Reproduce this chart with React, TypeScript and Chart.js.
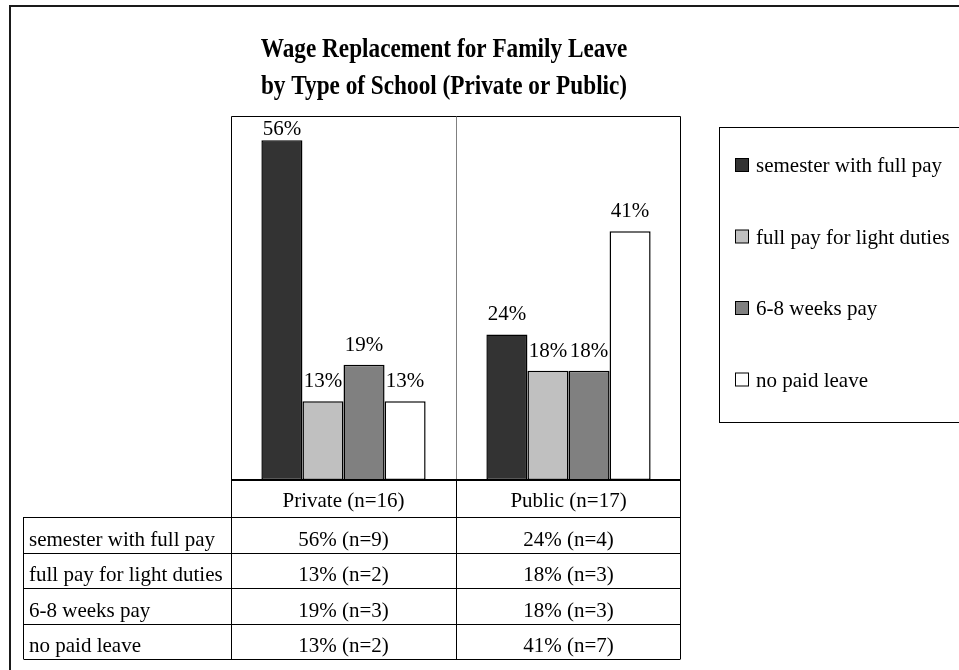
import React, { useEffect, useRef } from "react";
import { Chart, registerables } from "chart.js";

Chart.register(...registerables);

const titleLines = ["Wage Replacement for Family Leave", "by Type of School (Private or Public)"];
const categories = ["Private (n=16)", "Public (n=17)"];
const seriesLabels = ["semester with full pay", "full pay for light duties", "6-8 weeks pay", "no paid leave"];
const privatePct = [56, 13, 19, 13];
const publicPct = [24, 18, 18, 41];
const privateN = [9, 2, 3, 2];
const publicN = [4, 3, 3, 7];
const seriesColors = ["#333333", "#C0C0C0", "#808080", "#FFFFFF"];

const FONT = '"Liberation Serif", "Times New Roman", serif';

function drawText(
  ctx: CanvasRenderingContext2D,
  s: string,
  x: number,
  y: number,
  font: string,
  align: CanvasTextAlign = "left",
  sx = 1
) {
  ctx.save();
  ctx.font = font;
  ctx.textAlign = align;
  ctx.textBaseline = "alphabetic";
  ctx.fillStyle = "#000";
  ctx.translate(x, y);
  ctx.scale(sx, 1);
  ctx.fillText(s, 0, 0);
  ctx.restore();
}

function hLine(ctx: CanvasRenderingContext2D, x1: number, x2: number, y: number, color: string, w = 1) {
  ctx.save();
  ctx.strokeStyle = color;
  ctx.lineWidth = w;
  ctx.beginPath();
  ctx.moveTo(x1, y);
  ctx.lineTo(x2, y);
  ctx.stroke();
  ctx.restore();
}

function vLine(ctx: CanvasRenderingContext2D, x: number, y1: number, y2: number, color: string, w = 1) {
  ctx.save();
  ctx.strokeStyle = color;
  ctx.lineWidth = w;
  ctx.beginPath();
  ctx.moveTo(x, y1);
  ctx.lineTo(x, y2);
  ctx.stroke();
  ctx.restore();
}

const decorPlugin = {
  id: "decor",
  beforeDraw(chart: any) {
    const ctx = chart.ctx;
    ctx.save();
    ctx.fillStyle = "#fff";
    ctx.fillRect(0, 0, chart.width, chart.height);
    ctx.restore();
  },
  afterDatasetsDraw(chart: any) {
    const ctx: CanvasRenderingContext2D = chart.ctx;
    const a = chart.chartArea;
    const xs = chart.scales.x;
    const W = chart.width;
    const H = chart.height;

    // outer frame
    ctx.save();
    ctx.strokeStyle = "#1a1a1a";
    ctx.lineWidth = 2;
    ctx.strokeRect(10, 6, W + 40, H + 40);
    ctx.restore();

    // title
    drawText(ctx, titleLines[0], 444, 57, `bold 28px ${FONT}`, "center", 0.83);
    drawText(ctx, titleLines[1], 444, 94, `bold 28px ${FONT}`, "center", 0.83);

    // data labels
    chart.data.datasets.forEach((ds: any, di: number) => {
      const meta = chart.getDatasetMeta(di);
      meta.data.forEach((el: any, i: number) => {
        const base = Math.max(el.y - 14, a.top + 19);
        drawText(ctx, `${ds.data[i]}%`, el.x, base, `21px ${FONT}`, "center");
      });
    });

    const c0 = xs.getPixelForValue(0);
    const c1 = xs.getPixelForValue(1);
    const mid = (c0 + c1) / 2;

    // plot border
    const L = Math.round(a.left) + 0.5;
    const R = Math.round(a.right) - 0.5;
    const T = Math.round(a.top) + 0.5;
    const B = Math.round(a.bottom);
    hLine(ctx, L, R, T, "#000");
    vLine(ctx, L, T, B, "#000");
    vLine(ctx, R, T, B, "#000");
    vLine(ctx, Math.round(mid) + 0.5, T, B, "#808080");

    // data table
    const tableLeft = 23.5;
    const headerBottom = B + 37;
    const rowH = 35.5;
    const rowTops = [headerBottom];
    for (let i = 1; i <= seriesLabels.length; i++) rowTops.push(headerBottom + i * rowH);
    const tableBottom = rowTops[rowTops.length - 1];

    vLine(ctx, L, B, tableBottom, "#000");
    vLine(ctx, Math.round(mid) + 0.5, B, tableBottom, "#000");
    vLine(ctx, R, B, tableBottom, "#000");
    vLine(ctx, tableLeft, headerBottom, tableBottom, "#000");
    rowTops.forEach((y) => hLine(ctx, tableLeft, R, Math.round(y) + 0.5, "#000"));

    // header labels
    categories.forEach((c, i) => {
      drawText(ctx, c, xs.getPixelForValue(i), headerBottom - 10, `21px ${FONT}`, "center");
    });

    const nCols = [privateN, publicN];
    seriesLabels.forEach((s, r) => {
      const baseY = rowTops[r + 1] - 7;
      drawText(ctx, s, tableLeft + 5.5, baseY, `21px ${FONT}`, "left");
      chart.data.datasets[r].data.forEach((v: number, ci: number) => {
        drawText(ctx, `${v}% (n=${nCols[ci][r]})`, xs.getPixelForValue(ci), baseY, `21px ${FONT}`, "center");
      });
    });

    // x axis line
    hLine(ctx, a.left, a.right, B, "#000", 2);

    // legend
    const lgLeft = 719.5;
    const lgTop = 127.5;
    const lgBottom = 422.5;
    ctx.save();
    ctx.strokeStyle = "#000";
    ctx.lineWidth = 1;
    ctx.strokeRect(lgLeft, lgTop, W + 40 - lgLeft, lgBottom - lgTop);
    ctx.restore();
    chart.data.datasets.forEach((ds: any, i: number) => {
      const baseY = 172 + i * 71.5;
      ctx.save();
      ctx.fillStyle = ds.backgroundColor;
      ctx.fillRect(735.5, baseY - 13.5, 13, 13);
      ctx.strokeStyle = "#000";
      ctx.lineWidth = 1;
      ctx.strokeRect(735.5, baseY - 13.5, 13, 13);
      ctx.restore();
      drawText(ctx, ds.label, 756, baseY, `21px ${FONT}`, "left");
    });
  },
};

export default function App() {
  const ref = useRef<HTMLCanvasElement | null>(null);
  useEffect(() => {
    if (!ref.current) return;
    const datasets = seriesLabels.map((label, i) => ({
      label,
      data: [privatePct[i], publicPct[i]],
      backgroundColor: seriesColors[i],
      borderColor: "#000",
      borderWidth: 1.5,
      borderSkipped: false as any,
      categoryPercentage: 0.73,
      barPercentage: 1,
    }));
    const chart = new Chart(ref.current, {
      type: "bar",
      data: { labels: categories, datasets },
      options: {
        responsive: false,
        animation: false,
        devicePixelRatio: 1,
        layout: { padding: { left: 231, right: 278, top: 116, bottom: 190 } },
        scales: {
          x: { display: false },
          y: { display: false, min: 0, max: 60 },
        },
        plugins: {
          legend: { display: false },
          title: { display: false },
          tooltip: { enabled: false },
        },
      },
      plugins: [decorPlugin],
    });
    return () => chart.destroy();
  }, []);
  return (
    <div style={{ position: "fixed", left: 0, top: 0, width: 959, height: 670, background: "#fff" }}>
      <canvas ref={ref} width={959} height={670} style={{ display: "block" }} />
    </div>
  );
}
